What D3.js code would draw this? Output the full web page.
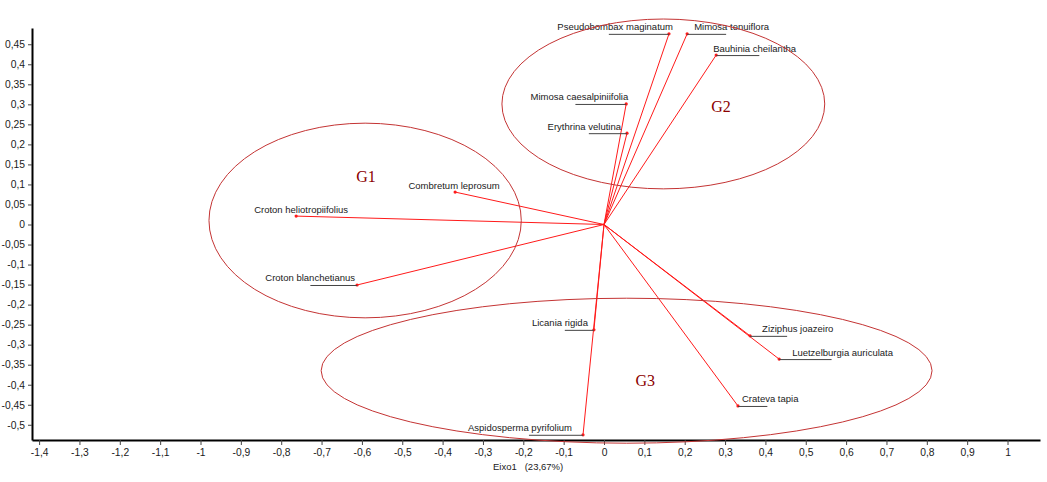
<!DOCTYPE html>
<script src="https://d3js.org/d3.v7.min.js"></script>

<style>
	body { margin: 0; background: #fff; }
	.chart text { font-family: "Liberation Sans", Arial, sans-serif; fill: #1a1a1a; }
	.chart .tick line { stroke: #444; }
	.chart .domain { stroke: #000; stroke-width: 2px; }
	.vec { stroke: #ff1a1a; stroke-width: 1px; }
	.grp { fill: none; stroke: #c43434; stroke-width: 1px; }
	.glab { font-family: "Liberation Serif", "Times New Roman", serif !important; fill: #8b0000 !important; font-size: 16px; }
	.lead { stroke: #444; stroke-width: 1px; }
</style>

<html><body>
<svg class="chart"></svg>

<script>
// species loadings on the two axes
var species = ["Pseudobombax maginatum", "Mimosa tenuiflora", "Bauhinia cheilantha",
	"Mimosa caesalpiniifolia", "Erythrina velutina", "Combretum leprosum",
	"Croton heliotropiifolius", "Croton blanchetianus", "Licania rigida",
	"Aspidosperma pyrifolium", "Ziziphus joazeiro", "Luetzelburgia auriculata", "Crateva tapia"];
var eixo1 = [0.161, 0.206, 0.278, 0.055, 0.057, -0.369, -0.763, -0.612, -0.025, -0.052, 0.362, 0.434, 0.332];
var eixo2 = [0.476, 0.476, 0.423, 0.301, 0.228, 0.081, 0.021, -0.151, -0.263, -0.525, -0.278, -0.336, -0.453];

// groups (ellipses)
var groups = ["G1", "G2", "G3"];
var groupCx = [-0.592, 0.147, 0.056];
var groupCy = [0.010, 0.301, -0.365];
var groupRx = [0.387, 0.400, 0.757];
var groupRy = [0.243, 0.212, 0.181];
var groupLabelX = [-0.59, 0.29, 0.102];
var groupLabelY = [0.106, 0.281, -0.403];

var xTicks = [-1.4,-1.3,-1.2,-1.1,-1,-0.9,-0.8,-0.7,-0.6,-0.5,-0.4,-0.3,-0.2,-0.1,0,0.1,0.2,0.3,0.4,0.5,0.6,0.7,0.8,0.9,1];
var yTicks = [-0.5,-0.45,-0.4,-0.35,-0.3,-0.25,-0.2,-0.15,-0.1,-0.05,0,0.05,0.1,0.15,0.2,0.25,0.3,0.35,0.4,0.45];
var xTitle = "Eixo1   (23,67%)";

var width = 1047;
var height = 482;

var x = d3.scaleLinear()
	.domain([-1.4176, 1.0805])
	.range([32, 1040]);

var y = d3.scaleLinear()
	.domain([-0.538, 0.4906])
	.range([440, 28]);

var loc = d3.formatLocale({decimal: ",", thousands: ".", grouping: [3], currency: ["", ""], minus: "-"});
var fmt = loc.format(".2~f");

var chart = d3.select(".chart")
	.attr("width", width)
	.attr("height", height);

// label placement: side, text dx from tip
var labelSide = ["L","R","R","L","L","C","C","L","L","L","R","R","R"];
var labelDx = [4, 7, -3, 2, -6, -1, 5, -2, -6, -11, 12, 13, 4];

// axes
var yAxis = chart.append("g")
	.attr("transform", "translate(" + x.range()[0] + ",0)")
	.call(d3.axisLeft(y).tickValues(yTicks).tickFormat(fmt).tickSize(4).tickSizeOuter(0).tickPadding(3));

var xAxis = chart.append("g")
	.attr("transform", "translate(0," + y.range()[0] + ")")
	.call(d3.axisBottom(x).tickValues(xTicks).tickFormat(fmt).tickSize(5).tickSizeOuter(0).tickPadding(4));

chart.selectAll(".tick text").style("font-size", "10.3px");

chart.append("text")
	.attr("x", 493)
	.attr("y", 470)
	.style("font-size", "9.5px")
	.style("white-space", "pre")
	.text(xTitle);

// vectors
var pts = d3.range(species.length);

chart.append("g").selectAll("line")
	.data(pts)
	.enter().append("line")
	.attr("class", "vec")
	.attr("x1", x(0)).attr("y1", y(0))
	.attr("x2", function(i) { return x(eixo1[i]); })
	.attr("y2", function(i) { return y(eixo2[i]); });

chart.append("g").selectAll("circle")
	.data(pts)
	.enter().append("circle")
	.attr("cx", function(i) { return x(eixo1[i]); })
	.attr("cy", function(i) { return y(eixo2[i]); })
	.attr("r", 1.6)
	.attr("fill", "#ff1a1a");

// labels with leader underline
var lab = chart.append("g").selectAll("g")
	.data(pts)
	.enter().append("g");

lab.append("text")
	.style("font-size", "9.5px")
	.attr("x", function(i) { return x(eixo1[i]) + labelDx[i]; })
	.attr("y", function(i) { return y(eixo2[i]) - 3.5; })
	.attr("text-anchor", function(i) { return labelSide[i] == "L" ? "end" : (labelSide[i] == "R" ? "start" : "middle"); })
	.text(function(i) { return species[i]; });

lab.each(function(i) {
	if (labelSide[i] == "C") return;
	var g = d3.select(this);
	var w = g.select("text").node().getComputedTextLength() * 0.52;
	var px = x(eixo1[i]), py = y(eixo2[i]) + 0.5;
	g.append("line")
		.attr("class", "lead")
		.attr("x1", labelSide[i] == "L" ? px - w : px)
		.attr("x2", labelSide[i] == "L" ? px : px + w)
		.attr("y1", py).attr("y2", py);
});

// group ellipses
chart.append("g").selectAll("ellipse")
	.data(groups)
	.enter().append("ellipse")
	.attr("class", "grp")
	.attr("cx", function(d, i) { return x(groupCx[i]); })
	.attr("cy", function(d, i) { return y(groupCy[i]); })
	.attr("rx", function(d, i) { return x(groupRx[i]) - x(0); })
	.attr("ry", function(d, i) { return y(0) - y(groupRy[i]); });

chart.append("g").selectAll("text")
	.data(groups)
	.enter().append("text")
	.attr("class", "glab")
	.attr("text-anchor", "middle")
	.attr("x", function(d, i) { return x(groupLabelX[i]); })
	.attr("y", function(d, i) { return y(groupLabelY[i]); })
	.text(function(d) { return d; });

</script>

</body></html>
